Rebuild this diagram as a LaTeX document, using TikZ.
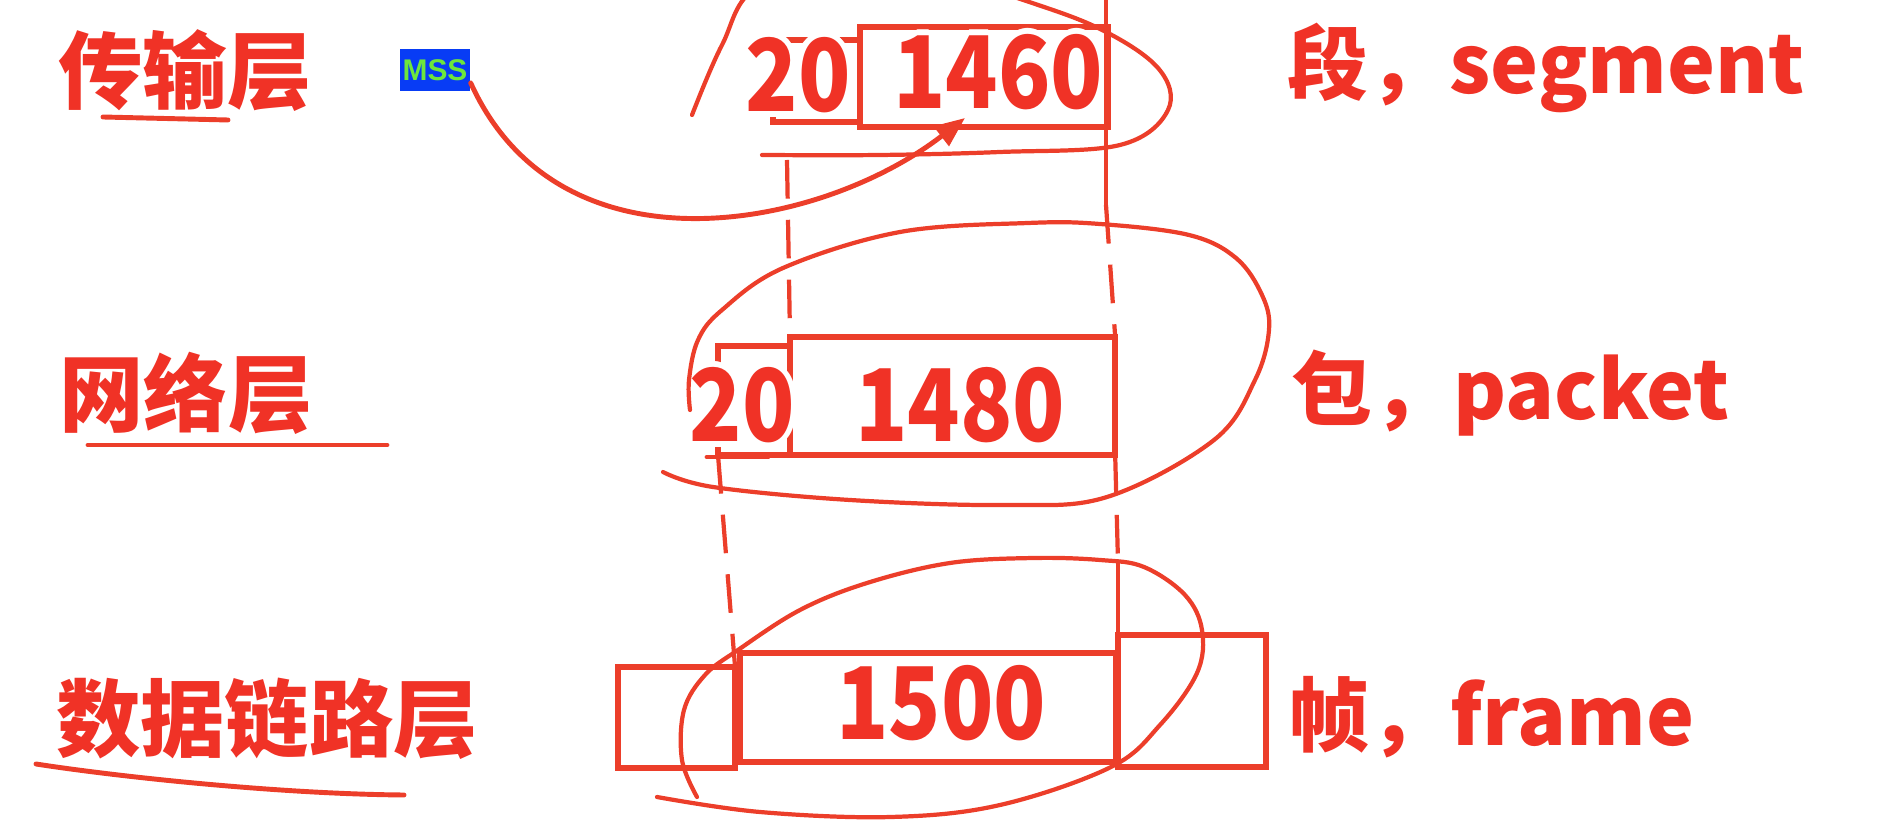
\documentclass[tikz,border=0pt]{standalone}
\usepackage{fontspec}
\usepackage{contour}
\usetikzlibrary{arrows.meta}
\newfontfamily\cjk{Noto Sans CJK SC}
\newfontfamily\numfont{Noto Sans CJK SC}[FakeStretch=0.86]
\newfontfamily\arialfont{Liberation Sans}
\definecolor{pen}{RGB}{236,62,42}
\definecolor{ink}{RGB}{240,50,38}
\definecolor{mssblue}{RGB}{8,60,245}
\definecolor{mssgreen}{RGB}{110,230,60}
\contourlength{1.6pt}
\newcommand{\sticker}[1]{\contour{white}{#1}}

\begin{document}
\begin{tikzpicture}[x=0.01cm, y=-0.01cm,
    layer/.style={text=ink, inner sep=0pt, font=\cjk\bfseries\fontsize{24pt}{24pt}\selectfont},
    unitname/.style={text=ink, inner sep=0pt, anchor=base west, font=\cjk\bfseries\fontsize{23pt}{23pt}\selectfont},
    num/.style={text=ink, inner sep=0pt, font=\numfont\bfseries\fontsize{28.5pt}{28.5pt}\selectfont},
    pdu/.style={draw=pen, line width=1.6pt, inner sep=0pt, outer sep=0pt, anchor=north west},
    msstag/.style={fill=mssblue, text=mssgreen, inner sep=0pt, minimum width=0.7cm, minimum height=0.41cm, font=\arialfont\bfseries\fontsize{8.5pt}{8.5pt}\selectfont},
    loop/.style={draw=pen, line width=1.2pt, line cap=round},
    guide/.style={draw=pen, line width=1.2pt, dash pattern=on 11pt off 6pt},
    underl/.style={draw=pen, line width=1.4pt, line cap=round}
]
\useasboundingbox (0,0) rectangle (1896,840);
\clip (0,0) rectangle (1896,840);

% Transport layer
\node[layer] (tl) at (185,73) {\sticker{传输层}};
\node[pdu, minimum width=0.87cm, minimum height=0.82cm] (tcph) at (773,40) {};
\node[pdu, minimum width=2.48cm, minimum height=1.00cm] (seg) at (860,27) {};
\node[num] (tcphlbl) at (798,78) {\sticker{20}};
\node[num] (seglbl) at (998,75) {\sticker{1460}};
\node[unitname] (segname) at (1287,94) {\sticker{段，segment}};
\node[msstag] (mss) at (435,70) {MSS};
\draw[underl] (103,117) -- (228,120);
\draw[loop] plot[smooth, tension=0.6] coordinates {(692,115) (722,45) (760,-15) (880,-50) (1000,-8) (1096,27) (1158,68) (1168,110) (1120,145) (1000,152) (880,155) (762,155)};

% Network layer
\node[layer] (nl) at (186,396) {\sticker{网络层}};
\node[pdu, minimum width=0.72cm, minimum height=1.09cm] (iph) at (718,346) {};
\node[pdu, minimum width=3.25cm, minimum height=1.18cm] (ipdata) at (790,337) {};
\node[num] (iphlbl) at (742,408) {\sticker{20}};
\node[num] (ipdatalbl) at (960,408) {\sticker{1480}};
\node[unitname] (pktname) at (1291,420) {\sticker{包，packet}};
\draw[underl] (88,445) -- (387,445);
\draw[underl] (707,457) -- (768,457);
\draw[loop] plot[smooth, tension=0.6] coordinates {(663,472) (713,487) (850,500) (1004,505) (1107,497) (1214,440) (1255,380) (1269,330) (1262,295) (1236,258) (1189,235) (1100,224) (1028,223) (900,232) (783,268) (722,310) (698,340) (689,380) (690,410)};

% Data link layer
\node[layer] (dll) at (267,722) {\sticker{数据链路层}};
\node[pdu, minimum width=1.17cm, minimum height=1.01cm] (dlh) at (618,667) {};
\node[pdu, minimum width=3.76cm, minimum height=1.09cm] (frm) at (740,653) {};
\node[pdu, minimum width=1.48cm, minimum height=1.32cm] (dlt) at (1118,635) {};
\node[num] (frmlbl) at (941,706) {\sticker{1500}};
\node[unitname] (frmname) at (1288,745) {\sticker{帧，frame}};
\draw[underl] (36,764) .. controls (120,777) and (280,794) .. (404,795);
\draw[loop] plot[smooth, tension=0.6] coordinates {(697,797) (682,760) (684,710) (705,675) (738,650) (800,610) (867,583) (950,563) (1034,558) (1100,560) (1144,567) (1185,595) (1202,630) (1197,673) (1160,725) (1111,767) (1000,805) (891,817) (760,812) (657,797)};

% Connections
\coordinate (rtop) at (1106,0);
\coordinate (rsplit) at (1106,205);
\coordinate (lsplit) at (787,160);
\coordinate (rmid) at (1118,562);
\coordinate (msstip) at (965,118);
\draw[pen, line width=1.2pt] (rtop) -- (rsplit);
\draw[guide] (rsplit) -- (ipdata.north east);
\draw[guide] (lsplit) -- (ipdata.north west);
\draw[guide] (iph.south west) -- (dlh.north east);
\draw[guide] (ipdata.south east) -- (rmid);
\draw[pen, line width=1.2pt] (rmid) -- (dlt.north west);
\draw[loop, line width=1.4pt, -{Triangle[length=0.3cm, width=0.24cm]}] (mss.-20) .. controls (560,280) and (820,230) .. (msstip);

\end{tikzpicture}
\end{document}
